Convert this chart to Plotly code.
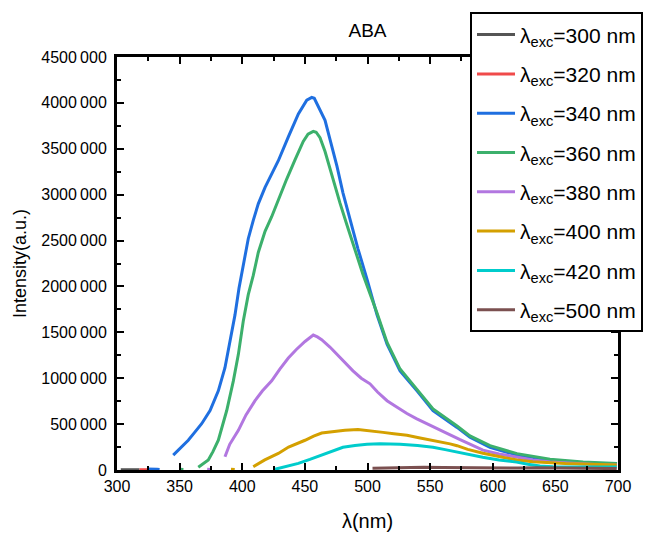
import plotly.graph_objects as go

# ---- data ----
wl_300 = [303, 310, 318]
I_300 = [3000, 3000, 3000]

wl_320 = [318, 322, 326]
I_320 = [3000, 3000, 3000]

wl_340 = [324, 328, 332, 334, None, 344.9, 350, 356.9, 362, 367.6, 374.3, 380.9, 386.2, 390.2,
          394.2, 397.4, 400.8, 404.8, 408.8, 412.8, 418.2, 423.5, 428.8, 436.8, 444.8, 451.5,
          455.5, 457.5, 460.7, 466.1, 470.1, 475.6, 480.4, 486.0, 492.4, 499.6, 507.6, 515.6,
          526.0, 539.5, 552.3, 571.5, 581.8, 597.8, 619.4, 645.7, 672.1, 699.2]
I_340 = [10e3, 12e3, 8e3, 5e3, None, 162e3, 230e3, 324e3, 410e3, 504e3, 648e3, 863e3, 1115e3,
         1400e3, 1690e3, 1980e3, 2230e3, 2520e3, 2720e3, 2900e3, 3080e3, 3230e3, 3370e3, 3630e3,
         3880e3, 4030e3, 4060e3, 4050e3, 3960e3, 3810e3, 3600e3, 3310e3, 3020e3, 2730e3, 2410e3,
         2080e3, 1690e3, 1370e3, 1080e3, 863e3, 648e3, 464e3, 356e3, 248e3, 162e3, 108e3, 76e3,
         65e3]

wl_360 = [350, 353, None, 364.9, 368, 372.9, 376.6, 380.9, 387.6, 392.9, 396.9, 400.8, 404.8,
          408.8, 412.8, 418.2, 423.5, 428.8, 435.5, 442.1, 448.7, 452.5, 456.7, 459, 462.1, 466.1,
          472.5, 478.0, 483.6, 490.0, 496.4, 507.6, 515.6, 526, 539.5, 552.3, 571.5, 581.8, 597.8,
          619.4, 645.7, 672.1, 699.2]
I_360 = [8e3, 5e3, None, 30e3, 60e3, 108e3, 200e3, 324e3, 648e3, 971e3, 1260e3, 1620e3, 1910e3,
         2120e3, 2370e3, 2600e3, 2760e3, 2950e3, 3170e3, 3380e3, 3580e3, 3660e3, 3690e3, 3680e3,
         3620e3, 3470e3, 3160e3, 2910e3, 2670e3, 2410e3, 2130e3, 1710e3, 1390e3, 1100e3, 880e3,
         665e3, 480e3, 372e3, 265e3, 178e3, 118e3, 86e3, 70e3]

wl_380 = [372, 375, None, 386.2, 390, 396.9, 403, 410.2, 416, 423.5, 430, 436.8, 443, 450.1,
          456.7, 460, 463.4, 470, 475.6, 482, 488.4, 495, 502.0, 508, 515.6, 523, 531.5, 539,
          547.5, 555, 563.5, 573.9, 583, 592.2, 605, 619.4, 632, 645.7, 658, 672.1, 685, 699.2]
I_380 = [8e3, 5e3, None, 144e3, 280e3, 432e3, 600e3, 755e3, 860e3, 971e3, 1100e3, 1220e3,
         1310e3, 1400e3, 1470e3, 1450e3, 1420e3, 1340e3, 1260e3, 1170e3, 1080e3, 1000e3, 939e3,
         850e3, 755e3, 690e3, 615e3, 560e3, 507e3, 455e3, 400e3, 330e3, 270e3, 216e3, 175e3,
         140e3, 110e3, 86e3, 75e3, 65e3, 58e3, 54e3]

wl_400 = [391, 394, None, 408.8, 418, 428.8, 437, 450.1, 457, 463.4, 472.5, 482, 492.4, 502,
          512.4, 521, 531.5, 541, 552.3, 565.9, 571.5, 580, 592.2, 605, 619.4, 632, 645.7, 658,
          672, 685, 699]
I_400 = [8e3, 5e3, None, 36e3, 110e3, 180e3, 250e3, 324e3, 370e3, 403e3, 421e3, 432e3, 442e3,
         430e3, 410e3, 395e3, 378e3, 352e3, 324e3, 285e3, 265e3, 225e3, 183e3, 145e3, 108e3,
         90e3, 76e3, 70e3, 65e3, 58e3, 54e3]

wl_420 = [426.1, 435, 444.8, 454, 463.4, 470, 480.4, 490, 499.6, 510, 526, 540, 552.3, 562,
          571.5, 580, 592, 605, 619, 628, 637.7, 648, 659, 680, 699]
I_420 = [8e3, 40e3, 72e3, 115e3, 162e3, 200e3, 248e3, 268e3, 281e3, 285e3, 281e3, 266e3,
         248e3, 222e3, 194e3, 170e3, 140e3, 110e3, 86e3, 62e3, 43e3, 36e3, 32e3, 32e3, 32e3]

wl_500 = [504, 515, 530, 545, 560, 575, 590, 605, 620, 635, 650, 665, 680, 699]
I_500 = [18e3, 22e3, 28e3, 30e3, 28e3, 25e3, 22e3, 20e3, 22e3, 25e3, 22e3, 18e3, 16e3, 15e3]

series = [
    ("300", wl_300, I_300, "#555555"),
    ("320", wl_320, I_320, "#F04A4A"),
    ("340", wl_340, I_340, "#1F6FE0"),
    ("360", wl_360, I_360, "#3CB06C"),
    ("380", wl_380, I_380, "#B277E0"),
    ("400", wl_400, I_400, "#D4A000"),
    ("420", wl_420, I_420, "#00CCCC"),
    ("500", wl_500, I_500, "#7B5050"),
]

y_tickvals = [0, 500000, 1000000, 1500000, 2000000, 2500000, 3000000, 3500000, 4000000, 4500000]
y_ticktext = ["0", "500\u2009000", "1000\u2009000", "1500\u2009000", "2000\u2009000", "2500\u2009000",
              "3000\u2009000", "3500\u2009000", "4000\u2009000", "4500\u2009000"]
x_tickvals = [300, 350, 400, 450, 500, 550, 600, 650, 700]
x_ticktext = ["300", "350", "400", "450", "500", "550", "600", "650", "700"]

FONT = "Arial, Liberation Sans, sans-serif"

fig = go.Figure()
for name, x, y, c in series:
    fig.add_trace(go.Scatter(
        x=x, y=y, mode="lines", name=f"λ<sub>exc</sub>={name} nm",
        line=dict(color=c, width=3), legendgroup=name, connectgaps=False,
    ))

axis_common = dict(
    showline=True, linecolor="black", linewidth=3, mirror="allticks",
    ticks="inside", ticklen=7, tickwidth=2, tickcolor="black",
    showgrid=False, zeroline=False,
    tickfont=dict(family=FONT, size=16, color="black"),
)

fig.update_layout(
    width=658, height=546,
    margin=dict(l=117, r=40, t=53, b=76),
    paper_bgcolor="white", plot_bgcolor="white",
    font=dict(family=FONT, color="black"),
    title=dict(text="ABA", x=0.5, xref="paper", y=1 - 30 / 546, yanchor="middle",
               font=dict(family=FONT, size=19, color="black")),
    xaxis=dict(range=[300, 700], tickvals=x_tickvals, ticktext=x_ticktext,
               minor=dict(ticks="inside", ticklen=4, tickwidth=2, tickcolor="black", dtick=25, tick0=300),
               title=dict(text="λ(nm)", font=dict(family=FONT, size=20, color="black"), standoff=20),
               **axis_common),
    yaxis=dict(range=[0, 4500000], tickvals=y_tickvals, ticktext=y_ticktext,
               minor=dict(ticks="inside", ticklen=4, tickwidth=2, tickcolor="black", dtick=250000, tick0=0),
               title=dict(text="Intensity(a.u.)", font=dict(family=FONT, size=18, color="black"), standoff=10),
               ticklabelstandoff=4,
               **axis_common),
    legend=dict(x=(470 - 117) / 501, y=(470 - 8) / 417, xanchor="left", yanchor="top",
                bordercolor="black", borderwidth=2, bgcolor="white",
                font=dict(family=FONT, size=21, color="black"),
                itemwidth=38, maxheight=420,
                tracegroupgap=9, traceorder="grouped"),
    showlegend=True,
)

fig.write_html("out.html")
